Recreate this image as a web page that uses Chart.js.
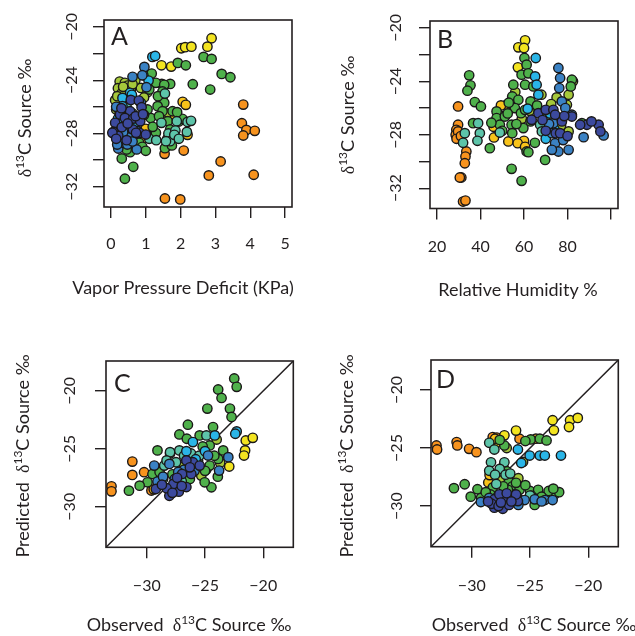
<!DOCTYPE html>
<html>
<head>
<meta charset="utf-8">
<script src="https://cdn.jsdelivr.net/npm/chart.js@4.4.0/dist/chart.umd.min.js"></script>
<style>
  html, body { margin: 0; padding: 0; background: #fff; }
  #wrap { position: relative; width: 635px; height: 636px; overflow: hidden; }
  #wrap canvas { position: absolute; }
</style>
</head>
<body>
<div id="wrap">
  <canvas id="panelA" width="318" height="318" style="left:0;top:0"></canvas>
  <canvas id="panelB" width="317" height="318" style="left:318px;top:0"></canvas>
  <canvas id="panelC" width="318" height="318" style="left:0;top:318px"></canvas>
  <canvas id="panelD" width="317" height="318" style="left:318px;top:318px"></canvas>
</div>
<script>
// sites, in drawing order (last one ends up on top)
const sites = ['orange', 'yellow', 'gold', 'yellowgreen', 'green', 'teal', 'cyan', 'blue', 'navy'];

// A: vapor pressure deficit (KPa) vs observed d13C, one inner array per site
const vpdA = [
  [3.80, 3.76, 3.89, 4.13, 3.80, 2.09, 1.54, 3.15, 2.81, 4.10, 1.55, 1.99],
  [2.89, 2.77, 2.02, 2.13, 2.31, 1.45, 1.73],
  [2.06, 2.15, 1.82, 1.27, 0.84, 0.95, 2.20, 1.62, 1.00],
  [0.25, 0.40, 0.48, 0.57, 0.86, 0.20, 0.30, 0.12, 1.05, 0.70, 1.60, 1.48, 0.15, 1.25, 0.35, 0.62, 0.18, 0.95, 0.42],
  [1.92, 2.15, 2.66, 2.89, 3.18, 3.43, 2.35, 2.85, 1.17, 1.46, 1.70, 1.29, 1.53, 1.10, 1.48, 1.48,
   1.53, 1.34, 1.48, 1.77, 1.14, 1.38, 1.63, 1.29, 0.81, 0.31, 0.64, 0.40, 1.61, 1.95, 2.05, 1.55,
   0.55, 0.90, 0.45, 1.75, 1.05, 0.25, 0.95, 1.20, 0.55, 1.00, 0.30, 1.35, 1.70, 1.90],
  [1.89, 2.20, 2.30, 2.18, 1.65, 1.70, 1.10, 1.85, 1.58, 1.82, 1.45, 0.62, 0.45, 0.30, 1.55, 1.30, 1.95],
  [1.19, 1.27, 0.55, 0.33, 0.93, 1.08, 0.33, 0.60, 0.20, 0.70, 0.45, 0.80],
  [0.96, 0.62, 0.90, 1.02, 0.21, 0.36, 0.74, 0.18, 0.47, 0.76, 0.86, 0.50, 0.35, 0.62, 0.15],
  [0.57, 0.80, 0.88, 0.26, 0.55, 0.40, 0.64, 0.84, 0.12, 0.31, 0.07, 0.63, 0.82, 0.21, 0.71, 0.04, 1.00, 0.15,
   0.48, 0.30, 0.72, 0.92, 0.45]
];
const obsA = [
  [-25.83, -27.23, -27.73, -27.80, -28.15, -29.28, -29.53, -30.10, -31.15, -31.10, -32.88, -32.95],
  [-20.85, -21.48, -21.60, -21.52, -21.48, -22.88, -22.98],
  [-25.62, -25.85, -26.60, -27.95, -28.53, -28.35, -28.10, -28.40, -27.65],
  [-24.10, -24.20, -24.40, -24.70, -24.58, -24.60, -25.00, -25.50, -24.90, -24.00, -26.50, -27.00, -26.20, -28.20,
   -24.50, -24.30, -25.20, -25.30, -25.70],
  [-22.70, -22.88, -22.25, -22.40, -23.53, -23.78, -24.30, -24.70, -23.50, -24.28, -24.28, -24.20, -24.35, -24.70, -24.85, -25.33,
   -25.70, -25.95, -26.33, -26.33, -26.83, -26.70, -27.08, -27.95, -28.70, -29.88, -30.50, -31.40, -28.95, -27.10, -26.90, -29.10,
   -29.40, -29.00, -29.20, -28.90, -26.20, -26.50, -26.60, -27.50, -28.10, -29.30, -28.60, -25.20, -27.70, -26.40],
  [-27.08, -27.13, -27.05, -27.88, -28.00, -28.58, -28.40, -27.78, -28.58, -28.10, -27.20, -26.50, -26.00, -27.20, -25.00, -28.50, -28.40],
  [-22.25, -22.18, -24.95, -25.33, -23.63, -24.03, -25.95, -25.10, -26.90, -27.40, -27.70, -26.90],
  [-23.00, -23.75, -23.63, -24.53, -29.13, -28.70, -29.20, -28.83, -28.83, -27.83, -25.70, -28.30, -27.90, -28.60, -26.00],
  [-25.48, -25.53, -26.03, -26.58, -26.33, -26.83, -26.88, -27.08, -27.20, -27.53, -27.88, -27.70, -27.95, -28.18, -26.70, -27.95, -28.08, -28.40,
   -27.25, -26.10, -27.95, -26.55, -28.50]
];

// B: relative humidity (%) vs observed d13C
const rhB = [
  [29.7, 29.7, 28.9, 28.6, 29.7, 29.0, 33.5, 33.1, 32.8, 31.2, 30.5, 32.0, 33.1, 31.0],
  [60.5, 57.4, 60.0, 57.2],
  [52.0, 49.4, 46.2, 52.8, 60.0, 57.1, 60.5, 46.0],
  [80.5, 79.7, 48.5, 80.5, 82.5, 75.0, 56.0, 59.0, 68.0, 77.0, 72.5, 62.5],
  [34.8, 35.4, 34.0, 37.4, 40.2, 36.6, 44.3, 54.3, 58.9, 69.7, 60.2, 61.2, 58.9, 62.0, 55.1, 60.5,
   64.3, 54.6, 57.4, 55.8, 47.4, 47.4, 48.9, 54.3, 59.7, 54.6, 61.2, 62.0, 51.2, 58.6, 60.5, 82.0,
   81.5, 86.6, 63.0, 66.0, 50.0, 45.0, 52.5, 56.5, 63.0, 65.0, 53.0],
  [38.9, 39.7, 38.6, 32.8, 32.0, 48.9, 67.4, 68.2, 70.5],
  [65.4, 65.1, 65.8, 66.6, 61.7, 72.0, 70.0, 74.0],
  [75.8, 76.6, 76.2, 77.4, 73.5, 72.8, 74.3, 75.8, 80.5, 87.4, 96.6, 82.0, 72.8, 79.0, 78.0, 71.5],
  [63.5, 66.6, 70.0, 73.5, 77.4, 82.0, 70.0, 74.6, 76.6, 88.9, 94.3, 95.1, 85.8, 74.3, 78.5, 91.0, 68.5, 80.0]
];
const obsB = [
  [-25.88, -27.25, -27.63, -28.00, -27.75, -28.30, -29.25, -29.63, -30.13, -31.20, -31.20, -33.00, -32.93, -28.10],
  [-20.93, -21.45, -21.50, -22.95],
  [-25.75, -25.80, -28.20, -28.50, -28.45, -28.63, -28.90, -27.40],
  [-25.00, -25.75, -26.50, -27.75, -24.00, -25.20, -24.80, -26.80, -25.00, -27.30, -25.70, -26.20],
  [-23.55, -24.30, -24.70, -25.55, -25.88, -27.13, -29.00, -30.55, -31.45, -29.88, -22.25, -22.75, -23.50, -23.40, -24.25, -24.25,
   -24.38, -25.13, -25.38, -26.00, -26.25, -26.75, -27.25, -27.25, -27.50, -27.88, -29.25, -29.30, -26.63, -26.38, -26.13, -23.88,
   -24.38, -27.13, -25.50, -25.80, -27.70, -27.10, -26.40, -27.20, -27.00, -28.60, -25.60],
  [-27.13, -27.88, -28.45, -27.88, -28.60, -27.83, -27.25, -27.75, -26.50],
  [-22.25, -23.63, -24.25, -25.00, -26.05, -26.40, -28.30, -27.60],
  [-23.00, -23.75, -24.50, -25.50, -27.13, -27.88, -28.63, -29.25, -29.13, -28.18, -28.05, -26.50, -29.13, -26.00, -28.40, -27.20],
  [-26.88, -26.38, -26.13, -26.13, -27.00, -26.63, -27.70, -27.88, -27.88, -27.25, -27.25, -27.75, -27.25, -26.50, -26.60, -27.00, -26.90, -28.10]
];

// C: observed vs predicted d13C, first model
const obsC = [
  [-33.03, -33.03, -31.24, -31.24, -30.23, -29.60],
  [-21.50, -20.90, -21.56, -21.65, -22.92],
  [-29.40, -26.50],
  [-25.32, -24.00, -23.70, -24.90, -26.80],
  [-22.49, -22.28, -23.87, -23.58, -24.80, -22.86, -22.72, -26.47, -27.20, -26.56, -24.31, -25.46, -29.08, -28.00, -29.51, -29.94,
   -30.61, -31.53, -24.45, -25.03, -23.87, -23.44, -24.60, -24.60, -25.60, -28.60, -27.80, -23.90, -24.20, -25.20,
   -26.30, -28.90, -25.00],
  [-28.00, -27.20, -27.49, -28.50, -24.88, -26.20, -25.50, -27.00, -28.30, -26.80],
  [-24.16, -22.28, -22.40, -26.04, -25.00, -25.80, -26.60],
  [-29.36, -29.08, -23.00, -23.79, -24.74, -28.06, -26.80, -27.60, -28.60, -27.30, -25.90],
  [-29.22, -28.06, -27.25, -27.72, -26.97, -26.18, -26.04, -25.46, -26.60, -27.40, -28.30, -26.60, -27.80, -26.30, -27.00, -28.70]
];
const predC = [
  [-28.24, -28.67, -26.10, -27.25, -27.02, -28.60],
  [-24.28, -24.05, -25.14, -25.58, -26.53],
  [-28.50, -27.60],
  [-27.31, -24.20, -26.20, -26.80, -26.50],
  [-18.93, -19.65, -19.88, -20.61, -21.53, -21.53, -22.25, -22.92, -23.76, -24.13, -23.12, -23.84, -25.14, -25.40, -27.17, -27.89,
   -28.18, -28.61, -28.32, -27.89, -25.87, -25.14, -24.71, -26.45, -26.00, -27.60, -27.20, -27.40, -25.60, -24.80,
   -27.60, -27.00, -26.90],
  [-25.29, -25.14, -26.16, -26.45, -23.84, -25.40, -25.60, -27.80, -26.00, -25.60],
  [-23.84, -23.50, -23.70, -24.42, -25.20, -25.90, -25.20],
  [-26.45, -27.83, -25.72, -26.88, -25.58, -26.30, -26.80, -27.60, -27.40, -27.00, -26.90],
  [-28.47, -29.05, -28.70, -28.03, -27.17, -27.17, -26.16, -26.45, -26.00, -27.50, -28.40, -28.30, -28.80, -26.60, -28.20, -28.10]
];

// D: observed vs predicted d13C, second model
const obsD = [
  [-33.03, -32.98, -31.30, -31.24, -30.23, -29.60, -28.20, -27.85, -25.90],
  [-27.20, -23.06, -22.95, -21.56, -21.65, -20.90, -26.20, -27.80],
  [-28.58, -28.47, -28.00, -24.50],
  [-25.60, -27.60, -26.00, -27.00, -27.30],
  [-31.53, -30.61, -30.09, -29.51, -27.20, -24.94, -24.16, -23.58, -27.00, -28.20, -26.80, -26.50, -25.90, -25.00, -24.30, -23.70,
   -22.90, -22.50, -27.70, -28.40, -25.80, -24.60, -24.90, -23.40, -26.50, -27.60, -25.40,
   -29.20, -26.90, -26.20, -25.40, -24.00, -23.00, -27.30, -28.80],
  [-28.50, -28.06, -27.20, -28.35, -28.50, -27.60, -28.00, -27.10, -25.00, -26.70, -27.90],
  [-26.04, -25.03, -24.16, -23.73, -22.34, -25.75],
  [-29.22, -28.50, -25.46, -24.60, -23.73, -23.06, -27.80, -26.00, -24.00],
  [-28.06, -27.34, -28.06, -27.20, -26.47, -26.04, -27.63, -28.30, -26.80, -27.00, -26.20, -27.70, -28.60, -26.60, -27.50]
];
const predD = [
  [-24.78, -25.13, -24.49, -24.78, -25.07, -25.36, -24.06, -24.10, -24.20],
  [-23.91, -22.61, -23.48, -22.61, -23.19, -22.41, -23.50, -24.50],
  [-27.97, -27.33, -24.20, -24.20],
  [-26.20, -27.80, -27.60, -25.00, -26.60],
  [-28.46, -28.12, -29.19, -28.55, -24.78, -24.26, -24.20, -24.35, -27.00, -28.40, -27.90, -28.30, -28.60, -28.70, -28.60, -29.20,
   -29.00, -28.80, -29.10, -29.00, -29.50, -29.90, -29.10, -28.70, -29.00, -24.30, -24.40,
   -29.30, -28.60, -28.00, -28.20, -29.20, -28.50, -28.30, -28.80],
  [-24.55, -25.13, -26.23, -26.23, -26.96, -26.80, -27.30, -27.30, -29.10, -27.20, -28.10],
  [-25.13, -25.65, -25.65, -25.65, -25.65, -26.29],
  [-29.65, -29.30, -29.48, -29.42, -29.48, -29.48, -29.20, -29.90, -29.60],
  [-30.14, -30.23, -29.42, -29.42, -29.28, -29.57, -28.99, -29.80, -29.90, -28.90, -29.00, -30.00, -29.60, -29.60, -29.70]
];

// axis ticks and which of them carry a label
const vpdTicks = [0, 1, 2, 3, 4, 5];
const rhTicks = [20, 40, 60, 80, 100];
const rhLabels = [20, 40, 60, 80];
const srcTicks = [-32, -30, -28, -26, -24, -22, -20];
const srcLabels = [-32, -28, -24, -20];
const fitTicks = [-30, -25, -20];

const siteColors = {
  orange: '#f7931e', yellow: '#f3e420', gold: '#f8c31a', yellowgreen: '#a6c83b', green: '#4fb14b',
  teal: '#5dc4a9', cyan: '#2ab5e7', blue: '#3b82c4', navy: '#3c4a9e'
};
const ink = '#231f20';

function toPoints(xs, ys) {
  const pts = [];
  xs.forEach((grp, g) => grp.forEach((x, i) => pts.push({ x: x, y: ys[g][i], site: sites[g] })));
  return pts;
}

function fmt(v) {
  return String(v).replace('-', '\u2212');
}

// text with a superscript part, centred on (cx, cy), optionally rotated
function drawRich(ctx, parts, cx, cy, angle, size) {
  const fontFor = p => (p.sup ? Math.round(size * 0.68) : size) + 'px ' + (p.greek ? '"Liberation Serif"' : 'Lato');
  let total = 0;
  parts.forEach(p => { ctx.font = fontFor(p); p.w = ctx.measureText(p.t).width; total += p.w; });
  ctx.save();
  ctx.translate(cx, cy);
  ctx.rotate(angle);
  ctx.textAlign = 'left';
  ctx.textBaseline = 'alphabetic';
  let x = -total / 2;
  parts.forEach(p => {
    ctx.font = fontFor(p);
    ctx.fillText(p.t, x, size * 0.36 - (p.sup ? size * 0.42 : 0));
    x += p.w;
  });
  ctx.restore();
}

const rFrame = {
  id: 'rFrame',
  afterDraw(chart, args, opts) {
    const { ctx, chartArea: a } = chart;
    ctx.save();
    ctx.strokeStyle = ink;
    ctx.lineWidth = 1.6;
    ctx.strokeRect(a.left, a.top, a.right - a.left, a.bottom - a.top);
    ctx.fillStyle = ink;
    ctx.font = '25px Lato';
    ctx.textAlign = 'left';
    ctx.textBaseline = 'alphabetic';
    ctx.fillText(opts.letter, opts.letterAt[0], opts.letterAt[1]);
    drawRich(ctx, opts.xTitle, opts.xTitleAt[0], opts.xTitleAt[1], 0, 18);
    drawRich(ctx, opts.yTitle, opts.yTitleAt[0], opts.yTitleAt[1], -Math.PI / 2, 18);
    ctx.restore();
  }
};

const srcTitle = [{ t: '\u03b4', greek: true }, { t: '13', sup: true }, { t: 'C Source \u2030' }];
const obsTitle = [{ t: 'Observed  ' }].concat(srcTitle);
const predTitle = [{ t: 'Predicted  ' }].concat(srcTitle);

function makePanel(id, p) {
  const datasets = [{
    type: 'scatter',
    data: toPoints(p.xs, p.ys),
    backgroundColor: c => siteColors[c.raw ? c.raw.site : 'green'],
    borderColor: '#1a1818',
    borderWidth: 1.4,
    pointRadius: 4.7,
    pointHoverRadius: 4.7
  }];
  if (p.oneToOne) {
    datasets.push({
      type: 'line',
      data: [{ x: p.xMin, y: p.yMin }, { x: p.xMax, y: p.yMax }],
      borderColor: ink,
      borderWidth: 1.5,
      pointRadius: 0,
      fill: false
    });
  }
  const tickFont = { family: 'Lato', size: 16 };
  const grid = { drawOnChartArea: false, drawTicks: true, tickLength: 11, color: ink, lineWidth: 1.4 };
  return new Chart(document.getElementById(id), {
    data: { datasets: datasets },
    plugins: [rFrame],
    options: {
      responsive: false,
      animation: false,
      events: [],
      layout: { padding: { left: 0, top: p.top, right: p.right, bottom: 0 } },
      plugins: {
        legend: { display: false },
        tooltip: { enabled: false },
        rFrame: p.text
      },
      scales: {
        x: {
          type: 'linear', position: 'bottom', min: p.xMin, max: p.xMax,
          afterBuildTicks: s => { s.ticks = p.xTicks.map(v => ({ value: v })); },
          afterFit: s => { s.height = p.xAxisHeight; },
          grid: grid,
          border: { display: false },
          ticks: {
            autoSkip: false, maxRotation: 0, padding: p.xPad, color: ink, font: tickFont,
            callback: v => (p.xLabels.includes(v) ? fmt(v) : '')
          }
        },
        y: {
          type: 'linear', position: 'left', min: p.yMin, max: p.yMax,
          afterBuildTicks: s => { s.ticks = p.yTicks.map(v => ({ value: v })); },
          afterFit: s => { s.width = p.yAxisWidth; },
          grid: grid,
          border: { display: false },
          ticks: {
            autoSkip: false, minRotation: 90, maxRotation: 90, crossAlign: 'center',
            padding: p.yPad, color: ink, font: tickFont,
            callback: v => (p.yLabels.includes(v) ? fmt(v) : '')
          }
        }
      }
    }
  });
}

makePanel('panelA', {
  xs: vpdA, ys: obsA,
  xMin: -0.2, xMax: 5.2, yMin: -33.52, yMax: -19.48,
  xTicks: vpdTicks, xLabels: vpdTicks, yTicks: srcTicks, yLabels: srcLabels,
  top: 20, right: 26, yAxisWidth: 104, xAxisHeight: 111, xPad: 16, yPad: 7,
  text: { letter: 'A', letterAt: [111, 45], xTitle: [{ t: 'Vapor Pressure Deficit (KPa)' }], xTitleAt: [183, 288],
          yTitle: srcTitle, yTitleAt: [25, 118] }
});

makePanel('panelB', {
  xs: rhB, ys: obsB,
  xMin: 16.8, xMax: 103.2, yMin: -33.52, yMax: -19.48,
  xTicks: rhTicks, xLabels: rhLabels, yTicks: srcTicks, yLabels: srcLabels,
  top: 21, right: 17, yAxisWidth: 112, xAxisHeight: 109.5, xPad: 17.5, yPad: 9.5,
  text: { letter: 'B', letterAt: [119, 48], xTitle: [{ t: 'Relative Humidity %' }], xTitleAt: [200, 290],
          yTitle: srcTitle, yTitleAt: [30, 115] }
});

makePanel('panelC', {
  xs: obsC, ys: predC, oneToOne: true,
  xMin: -33.5, xMax: -17.42, yMin: -33.5, yMax: -17.42,
  xTicks: fitTicks, xLabels: fitTicks, yTicks: fitTicks, yLabels: fitTicks,
  top: 43, right: 24.7, yAxisWidth: 106, xAxisHeight: 88.7, xPad: 18, yPad: 11,
  text: { letter: 'C', letterAt: [114, 74], xTitle: obsTitle, xTitleAt: [189, 307],
          yTitle: predTitle, yTitleAt: [23, 138] }
});

makePanel('panelD', {
  xs: obsD, ys: predD, oneToOne: true,
  xMin: -33.5, xMax: -17.42, yMin: -33.5, yMax: -17.42,
  xTicks: fitTicks, xLabels: fitTicks, yTicks: fitTicks, yLabels: fitTicks,
  top: 42, right: 16.7, yAxisWidth: 113, xAxisHeight: 89.3, xPad: 18.7, yPad: 9.3,
  text: { letter: 'D', letterAt: [118, 70], xTitle: obsTitle, xTitleAt: [216, 307],
          yTitle: predTitle, yTitleAt: [29, 138] }
});
</script>
</body>
</html>
